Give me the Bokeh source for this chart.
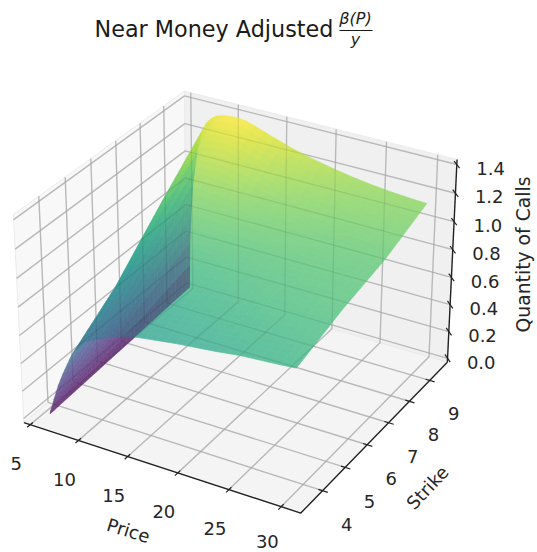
import numpy as np
from bokeh.plotting import figure
from bokeh.models import Range1d
from bokeh.core.properties import value
from bokeh.palettes import Viridis256
from bokeh.embed import file_html
from bokeh.resources import INLINE

# values
price = [5, 5.1, 5.25, 5.5, 6, 6.5, 7, 7.5, 8, 9, 10, 11, 12, 14, 16, 18, 20, 22, 24, 26, 28, 29.4]
strike = [3.5, 5.59, 7.67, 9.76]
z_k0 = [0, .03, .06, .12, .23, .32, .40, .48, .53, .61, .645, .68, .71, .75, .77, .79, .805, .82, .84, .85, .86, .87]
z_k1 = [0, .10, .18, .28, .46, .57, .65, .71, .75, .81, .84, .86, .87, .89, .90, .91, .92, .93, .94, .94, .95, .95]
z_k2 = [0, .22, .36, .54, .76, .89, .97, 1.01, 1.04, 1.07, 1.08, 1.08, 1.08, 1.07, 1.05, 1.04, 1.03, 1.02, 1.01, 1.01, 1.00, 1.00]
z_k3 = [0, .35, .55, .80, 1.05, 1.20, 1.27, 1.31, 1.335, 1.355, 1.36, 1.355, 1.335, 1.285, 1.24, 1.205, 1.175, 1.15, 1.13, 1.115, 1.105, 1.10]
price_skew = 0.9
price_ticks = [5, 10, 15, 20, 25, 30]
strike_ticks = [4, 5, 6, 7, 8, 9]
z_ticks = [0.0, 0.2, 0.4, 0.6, 0.8, 1.0, 1.2, 1.4]
title_text = "Near Money Adjusted"
x_title, y_title, z_title = "Price", "Strike", "Quantity of Calls"

Z = np.array([z_k0, z_k1, z_k2, z_k3]).T
P = np.array(price, float); K = np.array(strike)
xlim = (4.88, 31.3); ylim = (3.2, 9.76); zlim = (0.0, 1.405)

# matplotlib-style camera
def pad(l):
    d = (l[1] - l[0]) / 48
    return (l[0] - d, l[1] + d)
xp, yp, zp = pad(xlim), pad(ylim), pad(zlim)
asp = np.array([4, 4, 3.0])
asp = asp * 1.8294640721620434 * 25 / 24 / np.linalg.norm(asp)
el, az = np.radians(30), np.radians(-60)
R = asp / 2
eye = R + 10 * np.array([np.cos(el) * np.cos(az), np.cos(el) * np.sin(az), np.sin(el)])
w = (eye - R) / np.linalg.norm(eye - R)
u = np.cross([0, 0, 1], w); u = u / np.linalg.norm(u)
v = np.cross(w, u)

def cam(x, y, z):
    x = np.asarray(x, float); y = np.asarray(y, float); z = np.asarray(z, float)
    q = np.stack([(x - xlim[0]) / (xlim[1] - xlim[0]) * asp[0],
                  (y - ylim[0]) / (ylim[1] - ylim[0]) * asp[1],
                  (z - zlim[0]) / (zlim[1] - zlim[0]) * asp[2]], -1) - eye
    d = q @ w
    return (q @ u) / (-d), (q @ v) / (-d), d

anchors = [((xp[0], yp[1], zp[1]), (183, 90)), ((xp[0], yp[0], zp[1]), (14, 217)),
           ((xp[0], yp[0], zp[0]), (23, 422)), ((xp[1], yp[0], zp[0]), (300, 513)),
           ((xp[1], yp[1], zp[0]), (447, 360)), ((xp[1], yp[1], zp[1]), (457, 158))]
A = np.array([a[0] for a in anchors]); B = np.array([a[1] for a in anchors], float)
c0, c1, _ = cam(A[:, 0], A[:, 1], A[:, 2])
sx, tx = np.linalg.lstsq(np.c_[c0, np.ones(6)], B[:, 0], rcond=None)[0]
sy, ty = np.linalg.lstsq(np.c_[c1, np.ones(6)], B[:, 1], rcond=None)[0]

def pr(x, y, z):
    a, b, d = cam(x, y, z)
    return sx * a + tx, sy * b + ty

p = figure(width=537, height=552, output_backend="svg", toolbar_location=None,
           x_range=Range1d(0, 537), y_range=Range1d(552, 0), min_border=0)
p.axis.visible = False; p.grid.visible = False; p.outline_line_color = None
p.background_fill_color = "white"; p.border_fill_color = "white"

def pane(c, col):
    xs, ys = pr(*np.array(c).T)
    p.patch(xs, ys, fill_color=col, line_color="#ebebeb", line_width=1)
pane([(xp[0], yp[0], zp[0]), (xp[0], yp[1], zp[0]), (xp[0], yp[1], zp[1]), (xp[0], yp[0], zp[1])], "#f8f8f8")
pane([(xp[0], yp[1], zp[0]), (xp[1], yp[1], zp[0]), (xp[1], yp[1], zp[1]), (xp[0], yp[1], zp[1])], "#f0f0f0")
pane([(xp[0], yp[0], zp[0]), (xp[1], yp[0], zp[0]), (xp[1], yp[1], zp[0]), (xp[0], yp[1], zp[0])], "#f4f4f4")

gxs, gys = [], []
def grid(c):
    a, b = pr(*np.array(c, float).T); gxs.append(a.tolist()); gys.append(b.tolist())
for t in price_ticks:
    grid([(t, yp[0], zp[0]), (t, yp[1], zp[0]), (t, yp[1], zp[1])])
for t in strike_ticks:
    grid([(xp[1], t, zp[0]), (xp[0], t, zp[0]), (xp[0], t, zp[1])])
for t in z_ticks:
    grid([(xp[0], yp[0], t), (xp[0], yp[1], t), (xp[1], yp[1], t)])
p.multi_line(gxs, gys, line_color="#c9c9c9", line_width=1.4)

# surface: cells are blended by hand so that neighbouring facets show no seams
BG = np.array([243, 243, 243.0])
def rgb(h):
    return np.array([int(h[i:i + 2], 16) for i in (1, 3, 5)], float)
def mix(h, alpha):
    c = alpha * rgb(h) + (1 - alpha) * BG
    return "#%02x%02x%02x" % tuple(int(round(t)) for t in c)

fold_price = 8.0   # the rise behind the crest, seen through the part in front
nk, np_ = 12, 2
cells = {"far": [], "near": []}
zmin, zmax = Z.min(), Z.max()
for i in range(len(P) - 1):
    for j in range(len(K) - 1):
        for a in range(np_):
            for b in range(nk):
                s0, s1 = a / np_, (a + 1) / np_
                t0, t1 = b / nk, (b + 1) / nk
                def bl(s, t):
                    z = (Z[i, j] * (1 - s) * (1 - t) + Z[i + 1, j] * s * (1 - t)
                         + Z[i, j + 1] * (1 - s) * t + Z[i + 1, j + 1] * s * t)
                    k = K[j] + t * (K[j + 1] - K[j])
                    shift = price_skew * (K[-1] - k) / (K[-1] - K[0])
                    return P[i] + s * (P[i + 1] - P[i]) + shift, k, z
                q = np.array([bl(s0, t0), bl(s1, t0), bl(s1, t1), bl(s0, t1)])
                sxx, syy = pr(q[:, 0], q[:, 1], q[:, 2])
                _, _, dd = cam(q[:, 0], q[:, 1], q[:, 2])
                h = Viridis256[int(np.clip((q[:, 2].mean() - zmin) / (zmax - zmin), 0, 1) * 255)]
                key = "far" if P[i] < fold_price else "near"
                cells[key].append((dd.mean(), sxx.tolist(), syy.tolist(), h))
far = sorted(cells["far"], key=lambda c: c[0])
near = sorted(cells["near"], key=lambda c: c[0])
def draw_opaque(cs, alpha):
    cc = [mix(c[3], alpha) for c in cs]
    p.patches([c[1] for c in cs], [c[2] for c in cs], fill_color=cc, line_color=cc, line_width=0.7)
draw_opaque(far, 0.5)
draw_opaque(near, 0.72)
p.patches([c[1] for c in far], [c[2] for c in far], fill_color=[c[3] for c in far],
          line_color=None, fill_alpha=0.5)
p.multi_line(gxs, gys, line_color="#000000", line_alpha=0.08, line_width=1.4)

# axes
a, b = pr([xp[0], xp[1], xp[1]], [yp[0], yp[0], yp[1]], [zp[0]] * 3)
p.line(a, b, line_color="#222222", line_width=1.4)
a, b = pr([xp[1], xp[1]], [yp[1], yp[1]], [zp[0], zp[1]])
p.line(a, b, line_color="#222222", line_width=1.4)

txs, tys = [], []
lab_x, lab_y, lab_t = [], [], []
for t in price_ticks:
    a, b = pr([t, t], [yp[0] - 0.12, yp[0] + 0.1], [zp[0], zp[0]])
    txs.append(a.tolist()); tys.append(b.tolist())
    lab_x.append(a[0] - 11); lab_y.append(min(b[0] + 36, 541.2)); lab_t.append(str(t))
for t in strike_ticks:
    a, b = pr([xp[1] + 0.5, xp[1] - 0.4], [t, t], [zp[0], zp[0]])
    txs.append(a.tolist()); tys.append(b.tolist())
    lab_x.append(a[0] + 19); lab_y.append(b[0] + 32); lab_t.append(str(t))
for t in z_ticks:
    a, b = pr([xp[1] - 0.5, xp[1] + 0.5], [yp[1] + 0.12, yp[1] - 0.12], [t, t])
    txs.append(a.tolist()); tys.append(b.tolist())
    lab_x.append(a[1] + 31); lab_y.append(b[1]); lab_t.append(f"{t:.1f}")
p.multi_line(txs, tys, line_color="#222222", line_width=1.2)

font = value("DejaVu Sans")
col = "#262626"
fs = "18px"
p.text(lab_x, lab_y, text=lab_t, text_font=font, text_font_size=fs, text_align="center",
       text_baseline="middle", text_color=col)
p.text([128], [530], text=[x_title], angle=[np.radians(-17)], text_font=font, text_font_size=fs,
       text_align="center", text_baseline="middle", text_color=col)
p.text([427], [487], text=[y_title], angle=[np.radians(47)], text_font=font, text_font_size=fs,
       text_align="center", text_baseline="middle", text_color=col)
p.text([523], [254], text=[z_title], angle=[np.pi / 2], text_font=font, text_font_size="18.8px",
       text_align="center", text_baseline="middle", text_color=col)
p.text([94], [28], text=[title_text], text_font=font, text_font_size="22.3px", text_align="left",
       text_baseline="middle", text_color="#1a1a1a")
p.text([355], [18], text=["β(P)"], text_font=font, text_font_style="italic", text_font_size="16px",
       text_align="center", text_baseline="middle", text_color="#1a1a1a")
p.text([355], [39], text=["y"], text_font=font, text_font_style="italic", text_font_size="16px",
       text_align="center", text_baseline="middle", text_color="#1a1a1a")
p.line([339, 372], [30, 30], line_color="#1a1a1a", line_width=1.2)

open("out.html", "w").write(file_html(p, INLINE))
